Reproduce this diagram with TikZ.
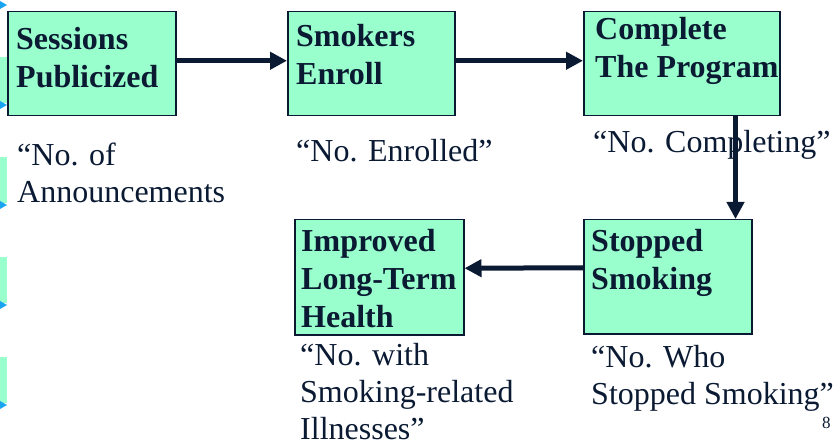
\documentclass[tikz,border=0pt]{standalone}
\usepackage{fontspec}
\setmainfont{Liberation Serif}
\usepackage[svgnames]{xcolor}
\usepackage{tikz}
\usetikzlibrary{arrows.meta,calc}

\definecolor{ink}{HTML}{0A1A33}
\definecolor{mint}{HTML}{99FFCC}
\definecolor{bulletblue}{HTML}{1AA3F0}

\begin{document}
\begin{tikzpicture}[x=1pt,y=-1pt,
    stage/.style={draw=ink,line width=1.5pt,fill=mint,anchor=north west,inner sep=0pt},
    stagetext/.style={anchor=base west,inner sep=0pt,align=left,text=ink,
        font=\fontsize{32pt}{38pt}\selectfont\bfseries},
    measure/.style={anchor=base west,inner sep=0pt,align=left,text=ink,
        font=\fontsize{32pt}{37pt}\selectfont},
    flow/.style={draw=ink,line width=5pt,-{Triangle[length=17pt,width=17pt]}}]
    \useasboundingbox (0,0) rectangle (837,443);

    % slide bullets cut off at the left edge
    \foreach \y in {57,157,257,357}
        \fill[mint] (0,\y) rectangle (7,{\y+46});
    \foreach \y in {5,105,205,305,405}
        \fill[bulletblue] (0,{\y-4}) -- (7,\y) -- (0,{\y+4}) -- cycle;

    \node[stage,minimum width=168pt,minimum height=104pt] (pub) at (7,11) {};
    \node[stage,minimum width=167pt,minimum height=104pt] (enroll) at (287,11) {};
    \node[stage,minimum width=196pt,minimum height=104pt] (complete) at (583,11) {};
    \node[stage,minimum width=168pt,minimum height=114pt] (stopped) at (583,219) {};
    \node[stage,minimum width=169pt,minimum height=115pt] (health) at (294,219) {};

    \node[stagetext] (pubtxt) at (16,88) {Sessions\\Publicized};
    \node[stagetext] (enrolltxt) at (296,85) {Smokers\\Enroll};
    \node[stagetext] (completetxt) at (595,78) {Complete\\The Program};
    \node[stagetext] (stoppedtxt) at (591,290) {Stopped\\Smoking};
    \node[stagetext] (healthtxt) at (301,327) {Improved\\Long-Term\\Health};

    \node[measure] (npub) at (17,203) {``No. of\\Announcements};
    \node[measure] (nenroll) at (296,162) {``No. Enrolled''};
    \node[measure] (ncomplete) at (593,153) {``No. Completing''};
    \node[measure] (nstopped) at (591,404) {``No. Who\\Stopped Smoking''};
    \node[measure] (nhealth) at (300,439) {``No. with\\Smoking-related\\Illnesses''};
    \node[anchor=base west,inner sep=0pt,text=ink,font=\fontsize{17pt}{20pt}\selectfont] (page) at (822,428) {8};

    \draw[flow] ([yshift=3pt]pub.east) -- ([yshift=3pt]enroll.west);
    \draw[flow] ([yshift=3pt]enroll.east) -- ([yshift=3pt]complete.west);
    \draw[flow] ([xshift=-45pt]complete.south east) -- ([xshift=-45pt]complete.south east |- stopped.north);
    \draw[flow] ([yshift=9pt]stopped.west) -- ([yshift=9pt]health.east);
\end{tikzpicture}
\end{document}
